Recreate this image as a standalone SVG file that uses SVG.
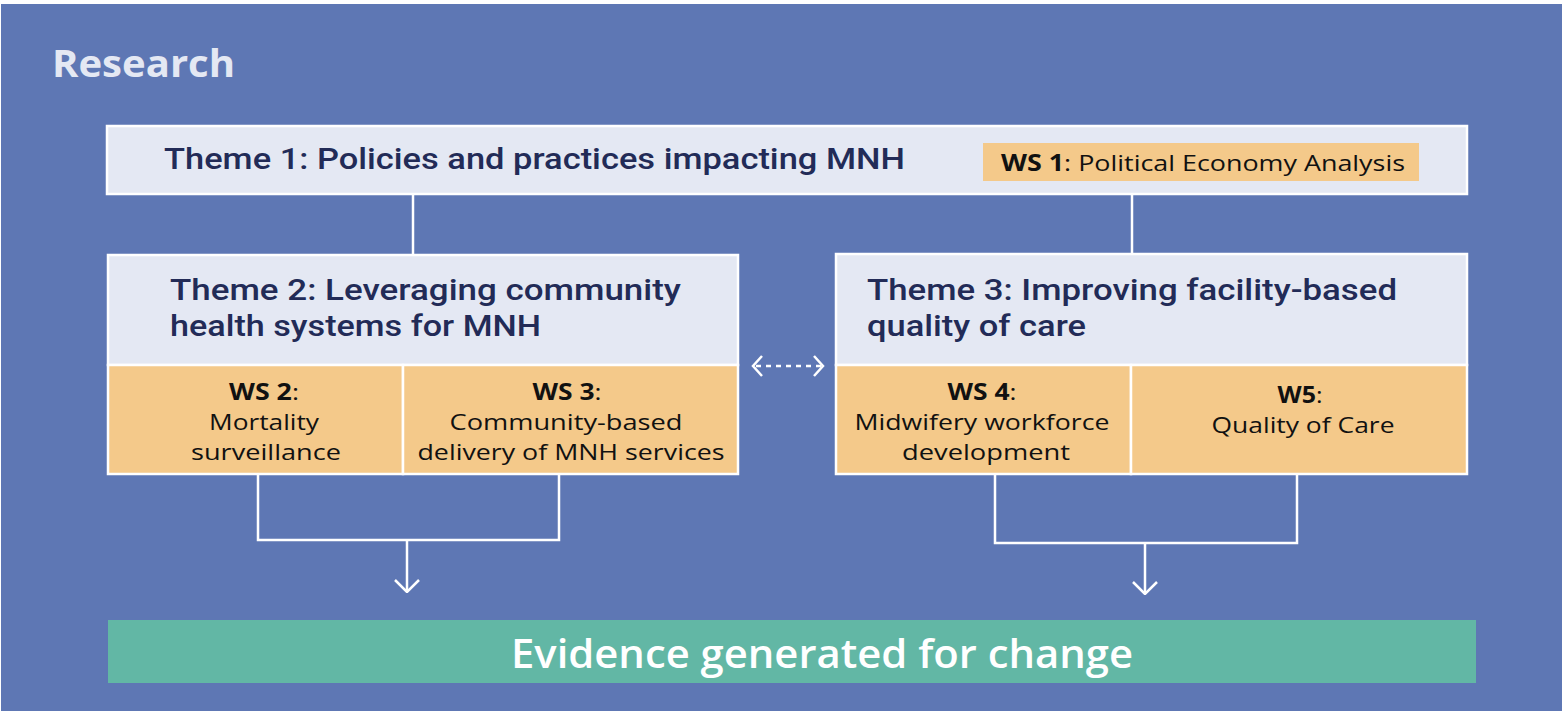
<svg xmlns="http://www.w3.org/2000/svg" width="1562" height="711" viewBox="0 0 1562 711">
  <style>
    .bg { fill: #5E77B4; }
    .theme { fill: #E4E8F3; stroke: #FFFFFF; stroke-width: 2.5; }
    .ws { fill: #F4C98A; stroke: #FFFFFF; stroke-width: 2.5; }
    .ttl { font-family: Roboto, "Open Sans", "Liberation Sans", sans-serif; font-weight: 500; fill: #222B57; font-size: 30px; }
    .wst { font-family: "Open Sans", "Liberation Sans", sans-serif; fill: #111111; font-size: 22.5px; text-anchor: middle; }
    .b { font-weight: 700; }
    .wire { fill: none; stroke: #FFFFFF; stroke-width: 2.5; }
  </style>
  <defs>
    <marker id="chev" viewBox="0 0 12 22" refX="10" refY="11" markerWidth="12" markerHeight="22" markerUnits="userSpaceOnUse" orient="auto-start-reverse">
      <path d="M1,1 L10,11 L1,21" fill="none" stroke="#FFFFFF" stroke-width="2.5"/>
    </marker>
    <marker id="down" viewBox="0 0 26 14" refX="13" refY="13" markerWidth="26" markerHeight="14" markerUnits="userSpaceOnUse" orient="0">
      <path d="M1,1 L13,13 L25,1" fill="none" stroke="#FFFFFF" stroke-width="2.5"/>
    </marker>
  </defs>

  <!-- backdrop -->
  <rect x="0" y="0" width="1562" height="711" fill="#FFFFFF"/>
  <rect class="bg" x="1" y="4" width="1561" height="707"/>
  <text x="52" y="77" textLength="183" lengthAdjust="spacingAndGlyphs" font-family="'Open Sans', 'Liberation Sans', sans-serif" font-weight="700" font-size="37" fill="#E4E8F3">Research</text>

  <!-- connectors -->
  <g id="connectors">
    <line class="wire" x1="413" y1="194" x2="413" y2="256"/>
    <line class="wire" x1="1132" y1="194" x2="1132" y2="255"/>
    <line class="wire" x1="753" y1="366" x2="823" y2="366" stroke-dasharray="5 5" stroke-dashoffset="-3" marker-start="url(#chev)" marker-end="url(#chev)"/>
    <path class="wire" d="M258,474 V540 H559 V474"/>
    <line class="wire" x1="407" y1="540" x2="407" y2="592" marker-end="url(#down)"/>
    <path class="wire" d="M995,474 V543 H1297 V474"/>
    <line class="wire" x1="1145" y1="543" x2="1145" y2="594" marker-end="url(#down)"/>
  </g>

  <!-- Theme 1 -->
  <g id="theme1">
    <rect class="theme" x="107" y="126" width="1360" height="68"/>
    <text class="ttl" x="164" y="169" textLength="741" lengthAdjust="spacingAndGlyphs">Theme 1: Policies and practices impacting MNH</text>
  </g>
  <g id="ws1">
    <rect x="983" y="143" width="436" height="38" fill="#F4C98A"/>
    <text x="1001" y="171" textLength="404" lengthAdjust="spacingAndGlyphs" font-family="'Open Sans', 'Liberation Sans', sans-serif" font-size="22.5" fill="#111111"><tspan class="b">WS 1</tspan>: Political Economy Analysis</text>
  </g>

  <!-- Theme 2 -->
  <g id="theme2">
    <rect class="theme" x="108" y="255" width="630" height="110"/>
    <text class="ttl" x="170" y="300" textLength="511" lengthAdjust="spacingAndGlyphs">Theme 2: Leveraging community</text>
    <text class="ttl" x="170" y="336" textLength="371" lengthAdjust="spacingAndGlyphs">health systems for MNH</text>
  </g>
  <g id="ws2">
    <rect class="ws" x="108" y="365" width="295" height="109"/>
    <text class="wst" x="264" y="400" textLength="70" lengthAdjust="spacingAndGlyphs"><tspan class="b">WS 2</tspan>:</text>
    <text class="wst" x="264" y="430" textLength="110" lengthAdjust="spacingAndGlyphs">Mortality</text>
    <text class="wst" x="266" y="460" textLength="150" lengthAdjust="spacingAndGlyphs">surveillance</text>
  </g>
  <g id="ws3">
    <rect class="ws" x="403" y="365" width="335" height="109"/>
    <text class="wst" x="567" y="400" textLength="69" lengthAdjust="spacingAndGlyphs"><tspan class="b">WS 3</tspan>:</text>
    <text class="wst" x="566" y="430" textLength="233" lengthAdjust="spacingAndGlyphs">Community-based</text>
    <text class="wst" x="571" y="460" textLength="307" lengthAdjust="spacingAndGlyphs">delivery of MNH services</text>
  </g>

  <!-- Theme 3 -->
  <g id="theme3">
    <rect class="theme" x="836" y="254" width="631" height="111"/>
    <text class="ttl" x="867" y="300" textLength="530" lengthAdjust="spacingAndGlyphs">Theme 3: Improving facility-based</text>
    <text class="ttl" x="867" y="336" textLength="219" lengthAdjust="spacingAndGlyphs">quality of care</text>
  </g>
  <g id="ws4">
    <rect class="ws" x="836" y="365" width="295" height="109"/>
    <text class="wst" x="982" y="400" textLength="69" lengthAdjust="spacingAndGlyphs"><tspan class="b">WS 4</tspan>:</text>
    <text class="wst" x="982" y="430" textLength="255" lengthAdjust="spacingAndGlyphs">Midwifery workforce</text>
    <text class="wst" x="986" y="460" textLength="168" lengthAdjust="spacingAndGlyphs">development</text>
  </g>
  <g id="ws5">
    <rect class="ws" x="1131" y="365" width="336" height="109"/>
    <text class="wst" x="1300" y="403" textLength="45" lengthAdjust="spacingAndGlyphs"><tspan class="b">W5</tspan>:</text>
    <text class="wst" x="1303" y="433" textLength="183" lengthAdjust="spacingAndGlyphs">Quality of Care</text>
  </g>

  <!-- Outcome -->
  <g id="evidence">
    <rect x="108" y="620" width="1368" height="63" fill="#62B7A5"/>
    <text x="822" y="668" text-anchor="middle" textLength="622" lengthAdjust="spacingAndGlyphs" font-family="'Open Sans', 'Liberation Sans', sans-serif" font-weight="600" font-size="39" fill="#FFFFFF">Evidence generated for change</text>
  </g>
</svg>
